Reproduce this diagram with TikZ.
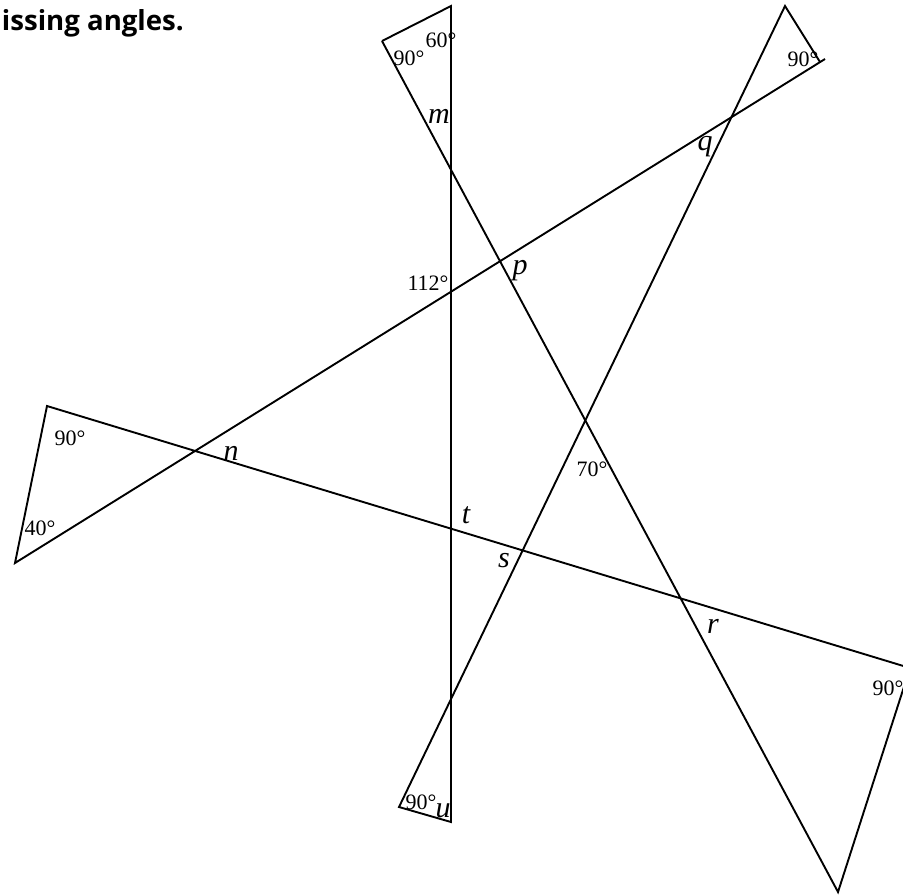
\documentclass[tikz,border=0pt]{standalone}
\usepackage{fontspec}
\setmainfont{Liberation Serif}
\newfontfamily\headfont{Open Sans}
\begin{document}
\begin{tikzpicture}[x=0.5pt,y=-0.5pt,line width=0.95pt,
    every node/.style={inner sep=0pt,anchor=base},
    deg/.style={font=\fontsize{11}{13}\selectfont},
    var/.style={font=\fontsize{15}{17}\selectfont\itshape}]
    \useasboundingbox (0,0) rectangle (903,894);
    % corners of the five triangles
    \coordinate (a) at (382,41);
    \coordinate (b) at (451,6);
    \coordinate (c) at (451,822);
    \coordinate (d) at (399,807);
    \coordinate (e) at (785,6);
    \coordinate (f) at (820,62);
    \coordinate (g) at (825,59);
    \coordinate (h) at (15,563);
    \coordinate (i) at (47,406);
    \coordinate (j) at (910,668);
    \coordinate (k) at (838,892);
    \draw (a) -- (b) -- (c) -- (d) -- (e) -- (f);
    \draw (g) -- (h) -- (i) -- (j) -- (k) -- (a);
    \node[font=\headfont\bfseries\fontsize{13.8}{16}\selectfont,anchor=base west] (title) at (1,30) {issing angles.};
    \node[deg] (a60) at (441,47) {60°};
    \node[deg] (a90t) at (409,65) {90°};
    \node[deg] (a90r) at (803,66) {90°};
    \node[deg] (a112) at (428,290) {112°};
    \node[deg] (a90l) at (70,445) {90°};
    \node[deg] (a40) at (40,535) {40°};
    \node[deg] (a70) at (592,476) {70°};
    \node[deg] (a90e) at (888,695) {90°};
    \node[deg] (a90b) at (421,809) {90°};
    \node[var] (m) at (439,123) {m};
    \node[var] (q) at (705,150) {q};
    \node[var] (p) at (520,274) {p};
    \node[var] (n) at (231,460) {n};
    \node[var] (t) at (466,523) {t};
    \node[var] (s) at (504,567) {s};
    \node[var] (r) at (713,633) {r};
    \node[var] (u) at (443,817) {u};
\end{tikzpicture}
\end{document}
